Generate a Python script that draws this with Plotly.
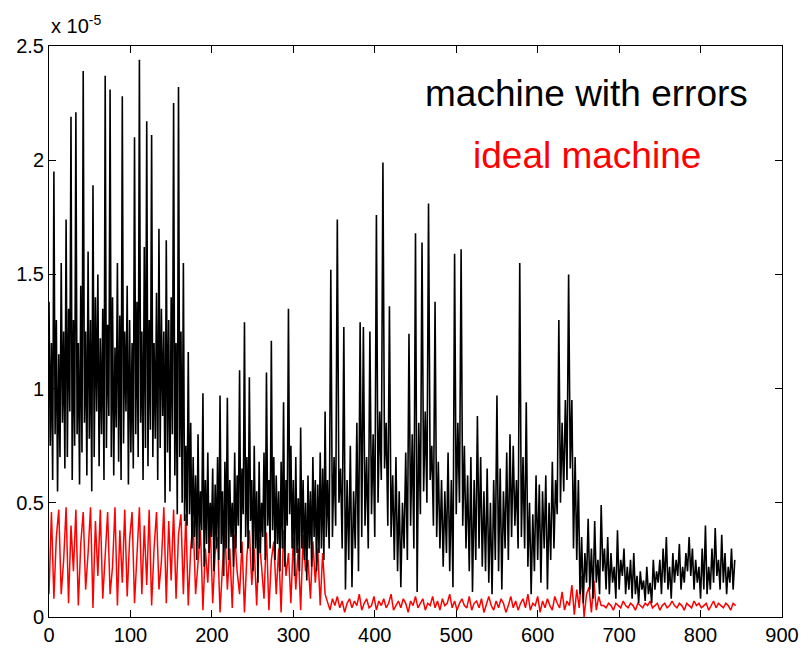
import plotly.graph_objects as go

# Values in units of 1e-5.
# Each segment: first sample index and sample spacing on the x axis (iterations).

# ---- "machine with errors" (black) ----
errors_a_start, errors_a_step = 0, 1.5
errors_a = [1.38, 0.75, 1.2, 0.6, 1.95, 0.8, 1.3, 0.55, 1.15, 0.7,
            1.55, 0.85, 1.25, 0.65, 1.74, 0.7, 1.35, 0.9, 2.19, 0.6,
            1.3, 0.75, 2.21, 0.8, 1.2, 0.58, 1.45, 0.72, 2.39, 0.85,
            1.25, 0.62, 1.6, 0.78, 1.3, 0.55, 1.89, 0.7, 1.4, 0.9,
            1.5, 0.66, 1.22, 0.8, 1.35, 0.6, 2.37, 0.74, 1.28, 0.88,
            2.31, 0.7, 1.4, 0.62, 1.18, 0.83, 1.55, 0.68, 1.32, 0.6,
            2.28, 0.76, 1.25, 0.9, 1.45, 0.58, 1.3, 0.72, 1.2, 0.65,
            2.10, 0.8, 1.38, 0.7, 2.44, 0.85, 1.25, 0.6, 1.62, 0.74,
            2.17, 0.66, 1.3, 0.82, 2.11, 0.7, 1.2, 0.78, 1.42, 0.6,
            1.7, 0.74, 1.35, 0.88, 1.25, 0.5, 1.65, 0.72, 1.3, 0.55,
            1.4, 0.8, 2.25, 0.62, 1.2, 0.45, 2.32, 0.7, 1.25, 0.5,
            1.55, 0.42]
errors_b_start, errors_b_step = 168, 1.5
errors_b = [0.75, 0.4, 1.16, 0.45, 0.85, 0.3, 0.7, 0.35, 0.62, 0.25,
            0.8, 0.3, 0.55, 0.38, 0.98, 0.22, 0.6, 0.32, 0.72, 0.28,
            0.5, 0.35, 0.65, 0.2, 0.58, 0.3, 0.7, 0.25, 0.97, 0.32,
            0.55, 0.18, 0.68, 0.3, 0.96, 0.25, 0.6, 0.35, 0.5, 0.22,
            0.72, 0.3, 0.62, 0.4, 1.08, 0.28, 0.65, 0.45, 1.29, 0.35,
            0.7, 0.3, 1.05, 0.42, 0.6, 0.2, 0.75, 0.3, 0.55, 0.15,
            0.68, 0.28, 0.5, 0.35, 0.72, 0.25, 1.07, 0.4, 0.6, 0.3,
            1.21, 0.38, 0.7, 0.25, 0.62, 0.32, 0.55, 0.2, 0.68, 0.3,
            0.94, 0.22, 0.6, 0.4, 1.35, 0.45, 0.75, 0.3, 0.6, 0.18,
            0.7, 0.28, 0.52, 0.2, 0.83, 0.3, 0.6, 0.25, 0.5, 0.16,
            0.62, 0.3, 0.55, 0.22, 0.7, 0.35, 0.6, 0.2, 0.58, 0.28,
            0.72, 0.3, 0.65, 0.25, 0.9, 0.35]
errors_c_start, errors_c_step = 342, 2
errors_c = [0.6, 0.3, 1.52, 0.35, 0.7, 0.4, 1.74, 0.5, 0.65, 0.3,
            1.27, 0.12, 0.6, 0.25, 0.75, 0.13, 0.55, 0.3, 0.85, 0.2,
            1.29, 0.35, 1.27, 0.4, 0.7, 0.3, 1.25, 0.45, 0.8, 0.35,
            1.76, 0.5, 0.9, 0.6, 1.99, 0.65, 0.85, 0.4, 1.36, 0.35,
            0.62, 0.25, 0.7, 0.2, 0.55, 0.13, 0.5, 0.3, 0.72, 0.25,
            1.24, 0.4, 0.8, 0.3, 1.68, 0.11, 0.85, 0.45, 1.64, 0.55,
            0.9, 0.5, 1.81, 0.6, 0.75, 0.4, 1.38, 0.35, 0.68, 0.3,
            0.6, 0.22, 0.55, 0.28, 0.72, 0.2, 0.6, 0.13, 1.59, 0.45,
            0.85, 0.5, 1.61, 0.4, 0.75, 0.3, 0.62, 0.2, 0.7, 0.11,
            0.6, 0.25, 0.88, 0.3, 0.7, 0.22, 0.55, 0.2, 0.65, 0.15,
            0.5, 0.1, 0.6, 0.25, 0.97, 0.2, 0.65, 0.12, 0.55, 0.3,
            0.72, 0.25, 0.8, 0.35, 0.75, 0.4, 0.6, 0.3, 1.55, 0.35,
            0.7, 0.3, 0.94, 0.22, 0.5, 0.1, 0.45, 0.2, 0.62, 0.25,
            0.58, 0.15, 0.55, 0.3, 0.62, 0.12, 0.5, 0.25, 0.68, 0.3,
            0.6, 0.45, 1.30, 0.5, 0.85, 0.55, 0.95, 0.6, 1.50, 0.65,
            0.95, 0.3, 0.7, 0.25]
errors_d_start, errors_d_step = 650, 2
errors_d = [0.6, 0.1, 0.35, 0.06, 0.28, 0.15, 0.43, 0.12, 0.3, 0.08,
            0.42, 0.15, 0.25, 0.1, 0.49, 0.2, 0.3, 0.12, 0.35, 0.1,
            0.28, 0.15, 0.22, 0.08, 0.38, 0.12, 0.25, 0.18, 0.3, 0.1,
            0.22, 0.12, 0.25, 0.08, 0.28, 0.1, 0.18, 0.06, 0.2, 0.12,
            0.16, 0.07, 0.22, 0.1, 0.15, 0.06, 0.25, 0.12, 0.2, 0.15,
            0.25, 0.1, 0.3, 0.15, 0.35, 0.12, 0.22, 0.08, 0.28, 0.15,
            0.25, 0.18, 0.32, 0.12, 0.22, 0.15, 0.28, 0.2, 0.35, 0.18,
            0.3, 0.12, 0.25, 0.15, 0.22, 0.08, 0.3, 0.12, 0.40, 0.1,
            0.22, 0.12, 0.3, 0.15, 0.39, 0.18, 0.25, 0.12, 0.36, 0.15,
            0.28, 0.1, 0.22, 0.15, 0.3, 0.12, 0.25]

# ---- "ideal machine" (red) ----
ideal_a_start, ideal_a_step = 0, 3
ideal_a = [0.1, 0.46, 0.08, 0.35, 0.47, 0.1, 0.25, 0.48, 0.06, 0.4,
           0.2, 0.47, 0.05, 0.32, 0.46, 0.12, 0.28, 0.48, 0.04, 0.42,
           0.18, 0.47, 0.08, 0.3, 0.46, 0.1, 0.22, 0.48, 0.05, 0.38,
           0.15, 0.47, 0.09, 0.34, 0.46, 0.06, 0.26, 0.48, 0.1, 0.4,
           0.14, 0.47, 0.05, 0.3, 0.46, 0.12, 0.24, 0.48, 0.06, 0.42,
           0.16, 0.47, 0.08, 0.36, 0.45, 0.1]
ideal_b_start, ideal_b_step = 168, 3
ideal_b = [0.45, 0.05, 0.3, 0.42, 0.1, 0.25, 0.38, 0.03, 0.3, 0.15,
           0.4, 0.06, 0.28, 0.35, 0.02, 0.22, 0.38, 0.12, 0.3, 0.04,
           0.36, 0.2, 0.1, 0.33, 0.02, 0.27, 0.38, 0.14, 0.3, 0.05,
           0.35, 0.22, 0.08, 0.37, 0.03, 0.25, 0.33, 0.1, 0.3, 0.02,
           0.38, 0.18, 0.28, 0.06, 0.35, 0.12, 0.3, 0.03, 0.36, 0.2,
           0.25, 0.08, 0.33, 0.15, 0.3, 0.05, 0.28, 0.1]
ideal_c_start, ideal_c_step = 342, 3
ideal_c = [0.06, 0.03, 0.08, 0.05, 0.09, 0.04, 0.07, 0.02, 0.06, 0.08,
           0.04, 0.07, 0.05, 0.1, 0.03, 0.06, 0.08, 0.04, 0.05, 0.09,
           0.03, 0.07, 0.05, 0.08, 0.04, 0.06, 0.1, 0.03, 0.05, 0.07,
           0.04, 0.08, 0.06, 0.02, 0.07, 0.05, 0.09, 0.04, 0.06, 0.08,
           0.03, 0.06, 0.05, 0.09, 0.04, 0.07, 0.03, 0.08, 0.05, 0.06,
           0.1, 0.04, 0.07, 0.03, 0.06, 0.08, 0.05, 0.04, 0.09, 0.03,
           0.06, 0.07, 0.04, 0.08, 0.02, 0.06, 0.09, 0.05, 0.03, 0.07,
           0.04, 0.08, 0.06, 0.02, 0.05, 0.09, 0.04, 0.07, 0.03, 0.06,
           0.08, 0.04, 0.1, 0.03, 0.06, 0.05, 0.09, 0.02, 0.07, 0.04,
           0.08, 0.05, 0.03, 0.09, 0.06, 0.04, 0.11, 0.03, 0.07, 0.05]
ideal_d_start, ideal_d_step = 642, 3
ideal_d = [0.14, 0.01, 0.12, 0.04, 0.18, 0.0, 0.1, 0.13, 0.02, 0.16,
           0.03, 0.09, 0.05,
           0.05, 0.04, 0.06, 0.05, 0.03, 0.06, 0.05, 0.04, 0.07, 0.05,
           0.04, 0.06, 0.05, 0.03, 0.06, 0.05, 0.04, 0.06, 0.05, 0.07,
           0.04, 0.05, 0.06, 0.03, 0.05, 0.06, 0.04, 0.05, 0.07, 0.05,
           0.04, 0.06, 0.05, 0.03, 0.06, 0.05, 0.04, 0.07, 0.05, 0.06,
           0.04, 0.05, 0.06, 0.03, 0.05, 0.07, 0.04, 0.06, 0.05, 0.04,
           0.06, 0.05, 0.03, 0.06, 0.05]

x_ticks = [0, 100, 200, 300, 400, 500, 600, 700, 800, 900]
y_ticks = [0, 0.5, 1, 1.5, 2, 2.5]
y_tick_text = ["0", "0.5", "1", "1.5", "2", "2.5"]

label_errors = "machine with errors"
label_ideal = "ideal machine"


def join_segments(segments):
    xs, ys = [], []
    for start, step, vals in segments:
        xs.extend(start + step * i for i in range(len(vals)))
        ys.extend(vals)
    return xs, ys


errors_x, errors_y = join_segments([
    (errors_a_start, errors_a_step, errors_a),
    (errors_b_start, errors_b_step, errors_b),
    (errors_c_start, errors_c_step, errors_c),
    (errors_d_start, errors_d_step, errors_d),
])
ideal_x, ideal_y = join_segments([
    (ideal_a_start, ideal_a_step, ideal_a),
    (ideal_b_start, ideal_b_step, ideal_b),
    (ideal_c_start, ideal_c_step, ideal_c),
    (ideal_d_start, ideal_d_step, ideal_d),
])

fig = go.Figure()
fig.add_trace(go.Scatter(x=ideal_x, y=ideal_y, mode="lines",
                         line=dict(color="#ff0000", width=1.5), name=label_ideal))
fig.add_trace(go.Scatter(x=errors_x, y=errors_y, mode="lines",
                         line=dict(color="#000000", width=1.6), name=label_errors))

font_family = "Liberation Sans, Arial, sans-serif"
axis_common = dict(showgrid=False, zeroline=False, showline=True, linecolor="black",
                   linewidth=1, mirror="allticks", ticks="inside", ticklen=7,
                   tickcolor="black", tickfont=dict(family=font_family, size=20, color="black"))

fig.update_layout(
    width=811, height=658,
    margin=dict(l=49, r=28, t=46, b=29),
    paper_bgcolor="white", plot_bgcolor="white",
    showlegend=False,
    xaxis=dict(range=[0, 900], tickvals=x_ticks, **axis_common),
    yaxis=dict(range=[0, 2.5], tickvals=y_ticks, ticktext=y_tick_text, **axis_common),
    annotations=[
        dict(text="x 10<sup>-5</sup>", xref="paper", yref="paper", x=0.0, y=1.012,
             xanchor="left", yanchor="bottom", showarrow=False,
             font=dict(family=font_family, size=20, color="black")),
        dict(text=label_errors, xref="x", yref="y", x=660, y=2.29, showarrow=False,
             font=dict(family=font_family, size=37, color="black")),
        dict(text=label_ideal, xref="x", yref="y", x=660, y=2.02, showarrow=False,
             font=dict(family=font_family, size=37, color="#ff0000")),
    ],
)

fig.write_html("out.html")
